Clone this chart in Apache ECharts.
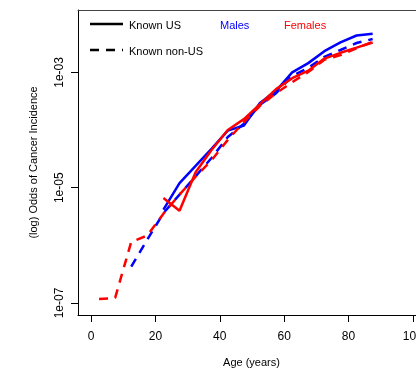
<!DOCTYPE html>
<html>
<head>
<meta charset="utf-8">
<script src="https://cdn.jsdelivr.net/npm/echarts@6/dist/echarts.min.js"></script>
<style>html,body{margin:0;padding:0;background:#fff}#c{width:416px;height:370px}</style>
</head>
<body>
<div id="c"></div>
<script>
// Ages (5-year group midpoints)
const agesMaleUS = [22.5,27.5,32.5,37.5,42.5,47.5,52.5,57.5,62.5,67.5,72.5,77.5,82.5,87.5];
const agesMaleNonUS = [12.5,17.5,22.5,27.5,32.5,37.5,42.5,47.5,52.5,57.5,62.5,67.5,72.5,77.5,82.5,87.5];
const agesFemaleUS = [22.5,27.5,32.5,37.5,42.5,47.5,52.5,57.5,62.5,67.5,72.5,77.5,82.5,87.5];
const agesFemaleNonUS = [2.5,7.5,12.5,17.5,22.5,27.5,32.5,37.5,42.5,47.5,52.5,57.5,62.5,67.5,72.5,77.5,82.5,87.5];

// Odds of cancer incidence
const oddsMaleUS = [4.17e-6,1.20e-5,2.40e-5,4.79e-5,9.77e-5,1.20e-4,2.95e-4,4.79e-4,1.00e-3,1.45e-3,2.34e-3,3.31e-3,4.37e-3,4.68e-3];
const oddsMaleNonUS = [4.27e-7,1.26e-6,3.63e-6,7.59e-6,1.58e-5,3.31e-5,7.59e-5,1.29e-4,2.75e-4,4.37e-4,8.71e-4,1.20e-3,1.86e-3,2.45e-3,3.24e-3,3.80e-3];
const oddsFemaleUS = [6.61e-6,3.98e-6,1.86e-5,4.57e-5,1.00e-4,1.55e-4,2.82e-4,5.13e-4,7.94e-4,1.07e-3,1.74e-3,2.19e-3,2.69e-3,3.31e-3];
const oddsFemaleNonUS = [1.17e-7,1.23e-7,1.15e-6,1.48e-6,3.55e-6,7.59e-6,1.55e-5,3.02e-5,6.76e-5,1.38e-4,2.63e-4,4.37e-4,6.76e-4,1.02e-3,1.66e-3,2.00e-3,2.63e-3,3.39e-3];

// Tick labels
const xTicks = [0,20,40,60,80,100];
const yTicks = [1e-7,1e-5,1e-3];

const FONT = 'Liberation Sans, Arial, sans-serif';
function pairs(xs, ys){ return xs.map((x,i)=>[x, ys[i]]); }
function fmtY(v){
  const e = Math.round(Math.log10(v));
  return '1e-' + String(-e).padStart(2,'0');
}

const chart = echarts.init(document.getElementById('c'), null, {renderer:'canvas'});
const dash = [9,7];
chart.setOption({
  animation:false,
  backgroundColor:'#fff',
  grid:{left:78, top:10, right:0, height:305, show:false, containLabel:false, outerBoundsMode:'none'},
  xAxis:[{
    type:'value', min:-4.04, max:100.97, position:'bottom',
    axisLine:{show:true, onZero:false, lineStyle:{color:'#000', width:1}},
    axisTick:{show:true, inside:false, length:7, customValues:xTicks, lineStyle:{color:'#000'}},
    axisLabel:{show:true, margin:16, customValues:xTicks, fontFamily:FONT, fontSize:12, color:'#000', hideOverlap:false},
    splitLine:{show:false}
  },{
    type:'value', min:-4.04, max:100.97, position:'top',
    axisLine:{show:true, onZero:false, lineStyle:{color:'#444', width:1}},
    axisTick:{show:false}, axisLabel:{show:false}, splitLine:{show:false}
  }],
  yAxis:{
    type:'log', logBase:10, min:Math.pow(10,-7.208), max:Math.pow(10,-1.917),
    axisLine:{show:true, onZero:false, lineStyle:{color:'#000', width:1}},
    axisTick:{show:true, inside:false, length:7, customValues:yTicks, lineStyle:{color:'#000'}},
    axisLabel:{show:true, rotate:90, margin:12, customValues:yTicks, formatter:fmtY, fontFamily:FONT, fontSize:12, color:'#000'},
    splitLine:{show:false}
  },
  graphic:[
    {type:'line', shape:{x1:90,y1:24,x2:123,y2:24}, style:{stroke:'#000', lineWidth:2.5}},
    {type:'line', shape:{x1:90,y1:50,x2:123,y2:50}, style:{stroke:'#000', lineWidth:2.5, lineDash:dash}},
    {type:'text', x:129, y:26, style:{text:'Known US', fill:'#000', font:'11px '+FONT, verticalAlign:'middle'}},
    {type:'text', x:129, y:51.5, style:{text:'Known non-US', fill:'#000', font:'11px '+FONT, verticalAlign:'middle'}},
    {type:'text', x:220, y:26, style:{text:'Males', fill:'#0000ff', font:'11px '+FONT, verticalAlign:'middle'}},
    {type:'text', x:284, y:26, style:{text:'Females', fill:'#ff0000', font:'11px '+FONT, verticalAlign:'middle'}},
    {type:'text', x:251.5, y:363, style:{text:'Age (years)', fill:'#000', font:'11px '+FONT, align:'center', verticalAlign:'middle'}},
    {type:'text', x:34, y:162.5, rotation:Math.PI/2, style:{text:'(log) Odds of Cancer Incidence', fill:'#000', font:'11px '+FONT, align:'center', verticalAlign:'middle'}}
  ],
  series:[
    {type:'line', data:pairs(agesMaleUS, oddsMaleUS), showSymbol:false, lineStyle:{color:'#0000ff', width:2.5, type:'solid'}, itemStyle:{color:'#0000ff'}},
    {type:'line', data:pairs(agesMaleNonUS, oddsMaleNonUS), showSymbol:false, lineStyle:{color:'#0000ff', width:2.5, type:dash}, itemStyle:{color:'#0000ff'}},
    {type:'line', data:pairs(agesFemaleUS, oddsFemaleUS), showSymbol:false, lineStyle:{color:'#ff0000', width:2.5, type:'solid'}, itemStyle:{color:'#ff0000'}},
    {type:'line', data:pairs(agesFemaleNonUS, oddsFemaleNonUS), showSymbol:false, lineStyle:{color:'#ff0000', width:2.5, type:dash}, itemStyle:{color:'#ff0000'}}
  ]
});
</script>
</body>
</html>
